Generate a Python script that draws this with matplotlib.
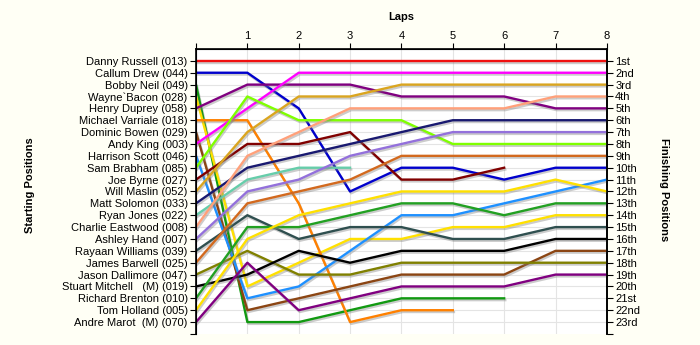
import matplotlib
matplotlib.use("Agg")
import matplotlib.pyplot as plt
import matplotlib.patheffects as pe

plt.rcParams['font.family'] = ['Liberation Sans', 'DejaVu Sans']

# drivers in starting order
drivers = [
    "Danny Russell (013)", "Callum Drew (044)", "Bobby Neil (049)",
    "Wayne`Bacon (028)", "Henry Duprey (058)", "Michael Varriale (018)",
    "Dominic Bowen (029)", "Andy King (003)", "Harrison Scott (046)",
    "Sam Brabham (085)", "Joe Byrne (027)", "Will Maslin (052)",
    "Matt Solomon (033)", "Ryan Jones (022)", "Charlie Eastwood (008)",
    "Ashley Hand (007)", "Rayaan Williams (039)", "James Barwell (025)",
    "Jason Dallimore (047)", "Stuart Mitchell   (M) (019)",
    "Richard Brenton (010)", "Tom Holland (005)", "Andre Marot  (M) (070)",
]

colours = [
    "#F01010", "#0000CC", "#119911", "#FFE000", "#800080", "#FF8000",
    "#8B4513", "#FF00FF", "#1E90FF", "#7FFF00", "#800000", "#DAA520",
    "#191970", "#66CDAA", "#FFA07A", "#9370DB", "#2F4F4F", "#D2691E",
    "#808000", "#000000", "#22A022", "#FFE000", "#800080",
]

# position at end of each lap (index 0 = grid)
positions = [
    [1, 1, 1, 1, 1, 1, 1, 1, 1],
    [2, 2, 5, 12, 10, 10, 11, 10, 10],
    [3, 23, 23, 22, 21, 21, 21],
    [4, 20, 18, 16, 16, 15, 15, 14, 14],
    [5, 3, 3, 3, 4, 4, 4, 5, 5],
    [6, 6, 13, 23, 22, 22],
    [7, 22, 21, 20, 19, 19, 19, 17, 17],
    [8, 5, 2, 2, 2, 2, 2, 2, 2],
    [9, 21, 20, 17, 14, 14, 13, 12, 11],
    [10, 4, 6, 6, 6, 8, 8, 8, 8],
    [11, 8, 8, 7, 11, 11, 10],
    [12, 7, 4, 4, 3, 3, 3, 3, 3],
    [13, 10, 9, 8, 7, 6, 6, 6, 6],
    [14, 11, 10, 10],
    [15, 9, 7, 5, 5, 5, 5, 4, 4],
    [16, 12, 11, 9, 8, 7, 7, 7, 7],
    [17, 14, 16, 15, 15, 16, 16, 15, 15],
    [18, 13, 12, 11, 9, 9, 9, 9, 9],
    [19, 17, 19, 19, 18, 18, 18, 18, 18],
    [20, 19, 17, 18, 17, 17, 17, 16, 16],
    [21, 15, 15, 14, 13, 13, 14, 13, 13],
    [22, 16, 14, 13, 12, 12, 12, 11, 12],
    [23, 18, 22, 21, 20, 20, 20, 19, 19],
]

finish_labels = ["1st", "2nd", "3rd"] + [f"{i}th" for i in range(4, 21)] + ["21st", "22nd", "23rd"]
laps = list(range(0, 9))

fig = plt.figure(figsize=(7, 3.45), dpi=100, facecolor="#FFFFF5")
ax = fig.add_axes([0.28, 0.032, 0.587, 0.826])
ax.set_facecolor("#FFFFFF")

shadow = [pe.SimpleLineShadow(offset=(0.8, -1.3), shadow_color="gray", alpha=0.4), pe.Normal()]
for pos, c in zip(positions, colours):
    ax.plot(range(len(pos)), pos, color=c, lw=1.7, path_effects=shadow, zorder=3)

ax.set_xlim(0, 8)
ax.set_ylim(24, 0)

# horizontal and vertical grid
for p in range(1, 24):
    ax.axhline(p, color="#E4E4E4", lw=0.8, zorder=1)
for l in laps[1:]:
    ax.axvline(l, color="#E4E4E4", lw=0.8, zorder=1)

ax.spines["bottom"].set_visible(False)
for s in ["top", "left", "right"]:
    ax.spines[s].set_linewidth(1.2)

ax.xaxis.tick_top()
ax.set_xticks(laps)
ax.set_xticklabels([""] + [str(l) for l in laps[1:]], fontsize=8)
ax.tick_params(axis="x", direction="out", length=4, pad=2)

ax.set_yticks(range(1, 25))
ax.set_yticklabels(drivers + [""], fontsize=8)
ax.tick_params(axis="y", direction="out", length=4, pad=2)

ax2 = ax.twinx()
ax2.set_ylim(24, 0)
ax2.set_yticks(range(1, 25))
ax2.set_yticklabels(finish_labels + [""], fontsize=8)
ax2.tick_params(axis="y", direction="out", length=4, pad=2)
ax2.spines["bottom"].set_visible(False)
ax2.spines["right"].set_linewidth(1.2)

fig.text(0.573, 0.951, "Laps", fontsize=8, fontweight="bold", ha="center", va="center")
fig.text(0.043, 0.464, "Starting Positions", fontsize=8, fontweight="bold",
         rotation=90, ha="center", va="center")
fig.text(0.949, 0.45, "Finishing Positions", fontsize=8, fontweight="bold",
         rotation=270, ha="center", va="center")

fig.savefig("out.png", dpi=100, facecolor=fig.get_facecolor())
